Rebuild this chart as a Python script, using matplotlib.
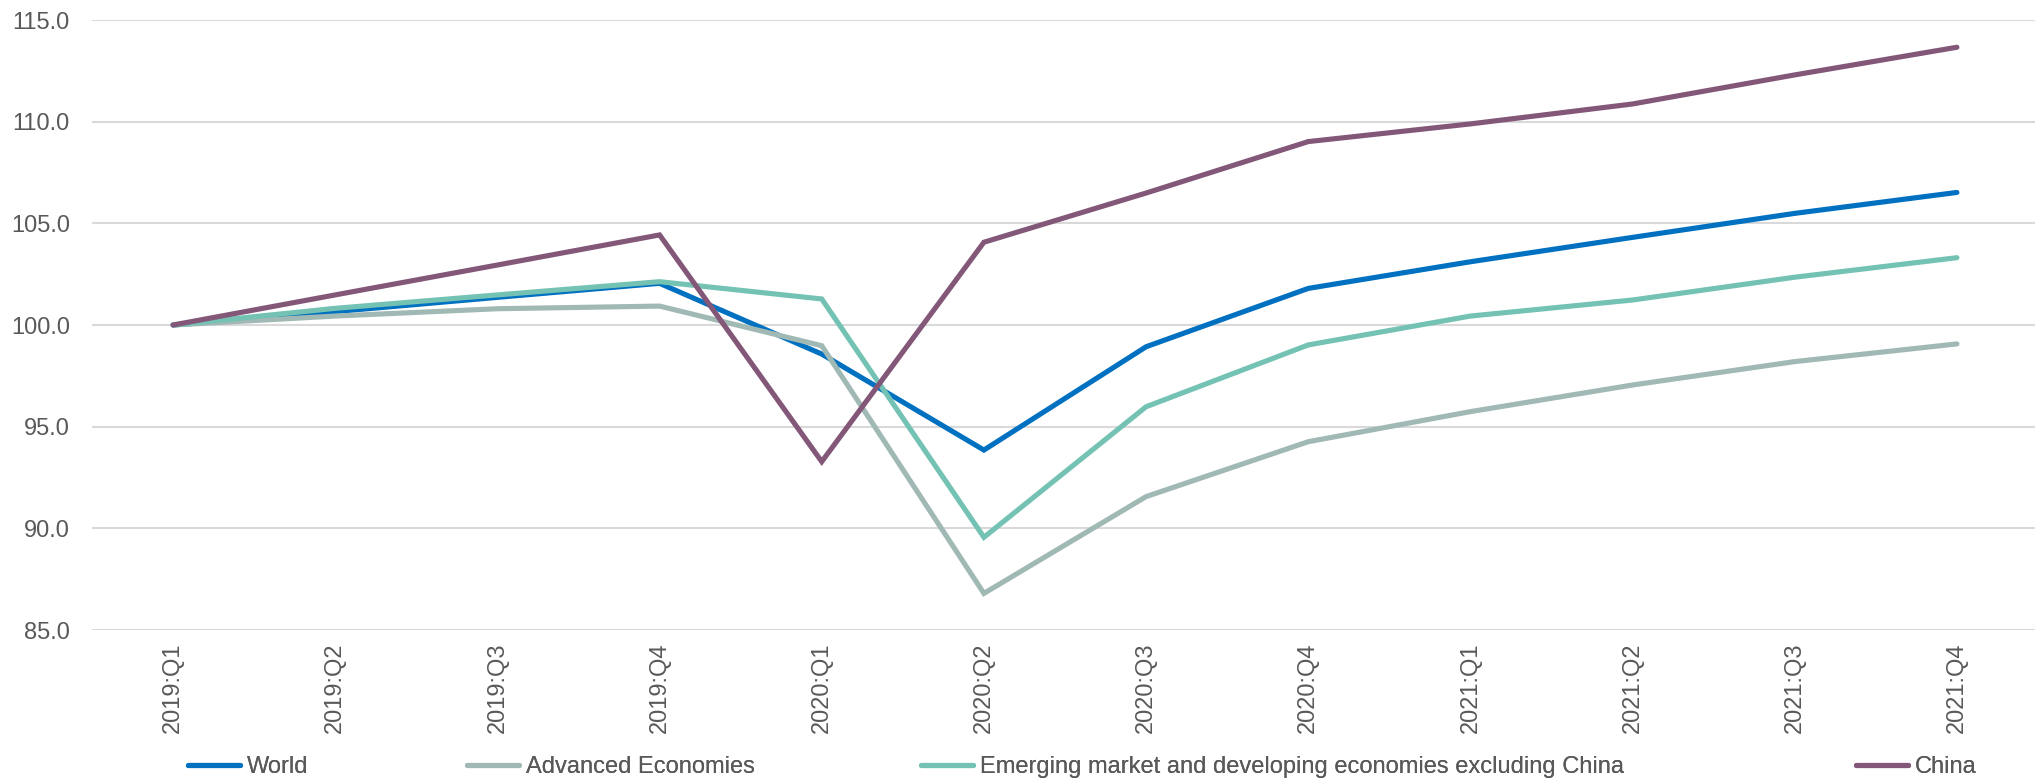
import matplotlib
matplotlib.use("Agg")
import matplotlib.pyplot as plt
from matplotlib.lines import Line2D

plt.rcParams['font.family'] = ['Liberation Sans', 'DejaVu Sans']

quarters = ["2019:Q1", "2019:Q2", "2019:Q3", "2019:Q4",
            "2020:Q1", "2020:Q2", "2020:Q3", "2020:Q4",
            "2021:Q1", "2021:Q2", "2021:Q3", "2021:Q4"]

world = [100.0, 100.66, 101.36, 102.05, 98.57, 93.85, 98.93, 101.8, 103.11, 104.31, 105.49, 106.52]
advanced = [100.0, 100.44, 100.80, 100.93, 98.98, 86.8, 91.56, 94.26, 95.74, 97.05, 98.2, 99.07]
emde_ex_china = [100.0, 100.82, 101.48, 102.13, 101.28, 89.56, 95.98, 99.02, 100.44, 101.23, 102.35, 103.31]
china = [100.0, 101.48, 102.95, 104.43, 93.28, 104.07, 106.49, 109.02, 109.89, 110.87, 112.3, 113.66]

series = [
    ("World", world, "#0070C0"),
    ("Advanced Economies", advanced, "#A0B9B4"),
    ("Emerging market and developing economies excluding China", emde_ex_china, "#74C2B4"),
    ("China", china, "#835778"),
]

W, H = 2035, 782
fig = plt.figure(figsize=(W / 100, H / 100), dpi=100)
ax = fig.add_axes([92 / W, 1 - 630 / H, (2038 - 92) / W, (630 - 20) / H])

x = list(range(len(quarters)))
for name, vals, col in series:
    ax.plot(x, vals, color=col, lw=3.7, solid_capstyle='round', solid_joinstyle='miter', label=name)

ax.set_xlim(-0.5, len(quarters) - 0.5)
ax.set_ylim(85, 115)
yt = [85, 90, 95, 100, 105, 110, 115]
ax.set_yticks(yt)
ax.set_yticklabels([f"{v:.1f}" for v in yt])
ax.set_xticks(x)
ax.set_xticklabels(quarters, rotation=90, va='top', ha='center')
ax.grid(axis='y', color='#D9D9D9', lw=1.5)
ax.set_axisbelow(True)
for s in ax.spines.values():
    s.set_visible(False)
ax.tick_params(axis='both', length=0, colors='#595959')
ax.tick_params(axis='y', labelsize=17, pad=16)
ax.tick_params(axis='x', labelsize=17, pad=9)

# legend entries placed individually along the bottom
leg_x = [188, 467, 921, 1856]
for (name, vals, col), lx in zip(series, leg_x):
    h = Line2D([0], [0], color=col, lw=3.7, solid_capstyle='round')
    lg = fig.legend([h], [name], loc='center left', bbox_to_anchor=(lx / W, 1 - 767 / H),
                    frameon=False, fontsize=17, handlelength=2.2, handletextpad=0.3,
                    borderaxespad=0, borderpad=0, labelcolor='#595959')
    fig.add_artist(lg)

fig.savefig("out.png", dpi=100)
